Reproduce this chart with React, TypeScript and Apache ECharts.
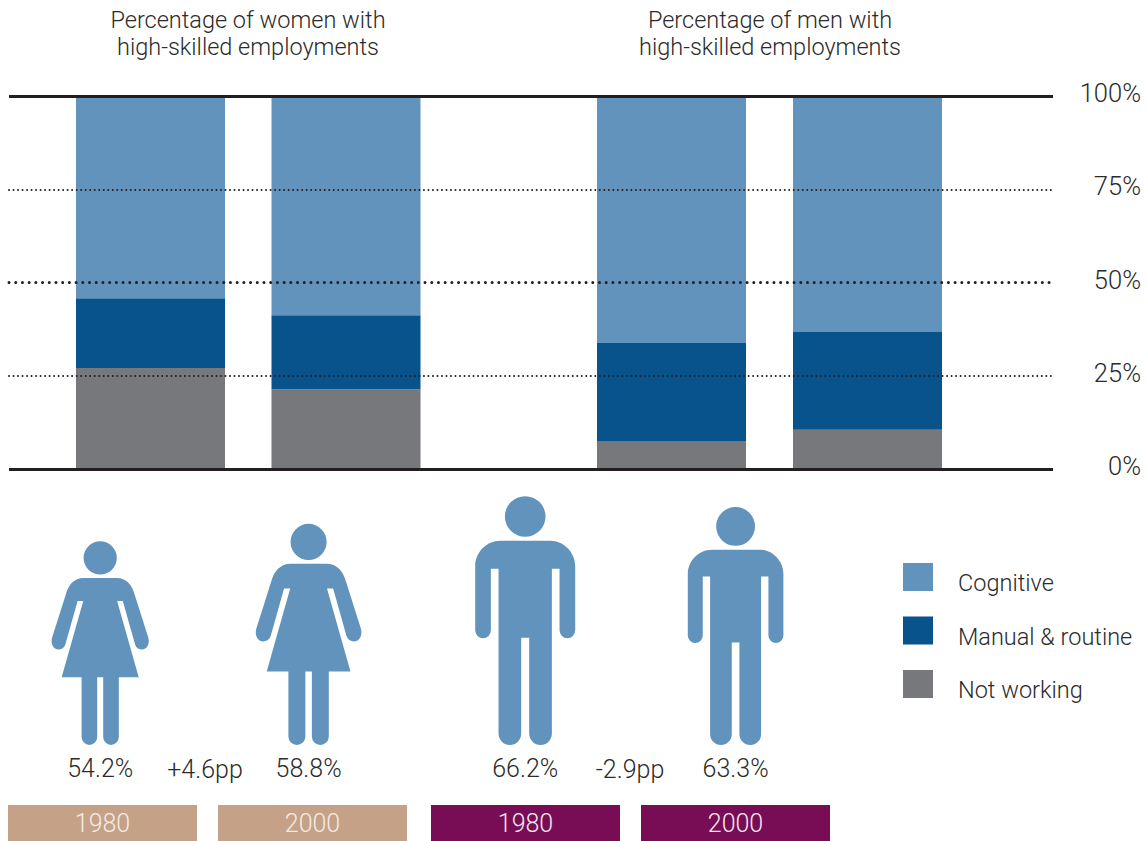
import React, { useEffect, useRef } from "react";
import * as echarts from "echarts";

// Shares of high-skilled employment by occupation type, in percent.
const years = ["1980", "2000"];
const womenNotWorking = [27.1, 21.4];
const womenManual = [18.7, 19.8];
const womenCognitive = [54.2, 58.8];
const menNotWorking = [7.5, 10.5];
const menManual = [26.3, 26.2];
const menCognitive = [66.2, 63.3];
const womenChange = "+4.6pp";
const menChange = "-2.9pp";
const axisValues = [0, 25, 50, 75, 100];
const legendNames = ["Cognitive", "Manual & routine", "Not working"];

const COGNITIVE = "#6193BC";
const MANUAL = "#08538B";
const IDLE = "#77787B";
const INK = "#231F20";
const LABEL = "#2B2B2B";
const FONT = "Roboto, 'Noto Sans', sans-serif";
const TEXT_SIZE = 23.5;
const NUMBER_SIZE = 25;

// Figure height in pixels per percentage point; the figures grow with their share.
const FIGURE_PX = 3.76;
const WOMAN_ASPECT = 292 / 611;
const MAN_ASPECT = 300 / 748;

const WOMAN =
  "path://M-50 110L50 110C78 110 96 130 104 161L145 290C150 310 140 325 126 325C116 325 108 320 105 310L68 179L51 179L116 408L56 408L56 588A23.5 23.5 0 0 1 9 588L9 408L-9 408L-9 588A23.5 23.5 0 0 1 -56 588L-56 408L-116 408L-51 179L-68 179L-105 310C-108 320 -116 325 -126 325C-140 325 -150 310 -145 290L-104 161C-96 130 -78 110 -50 110ZM-50 50A50 50 0 1 0 50 50A50 50 0 1 0 -50 50Z";
const MAN =
  "path://M-75 135L75 135C116 135 150 170 150 211L150 404A23.5 24 0 0 1 103 404L103 219L80 219L80 714A34 34 0 0 1 12 714L12 426L-12 426L-12 714A34 34 0 0 1 -80 714L-80 219L-103 219L-103 404A23.5 24 0 0 1 -150 404L-150 211C-150 170 -116 135 -75 135ZM-61 62A61 61 0 1 0 61 62A61 61 0 1 0 -61 62Z";
// A 30x28 swatch; the empty line below it lowers the legend text beside the swatch.
const SWATCH = "path://M0 0L30 0L30 28L0 28ZM0 40L30 40Z";

function stackSeries(name: string, data: number[], color: string, axis: number, stack: string) {
  return {
    type: "bar",
    name,
    data,
    stack,
    xAxisIndex: axis,
    yAxisIndex: axis,
    barWidth: 149,
    itemStyle: { color },
    silent: true,
  };
}

function figureSeries(name: string, data: number[], symbol: string, aspect: number, axis: number) {
  return {
    type: "pictorialBar",
    name,
    xAxisIndex: axis,
    yAxisIndex: axis,
    symbol,
    symbolPosition: "start",
    itemStyle: { color: COGNITIVE },
    data: data.map((value) => ({
      value,
      symbolSize: [value * FIGURE_PX * aspect, "100%"],
    })),
    label: {
      show: true,
      position: "bottom",
      distance: 11,
      formatter: "{c}%",
      fontFamily: FONT,
      fontWeight: 300,
      fontSize: NUMBER_SIZE,
      color: LABEL,
    },
    silent: true,
  };
}

function caption(text: string, x: number, y: number, fill = LABEL, fontSize = TEXT_SIZE) {
  return {
    type: "text",
    x,
    y,
    z: 10,
    style: {
      text,
      fill,
      align: "center",
      verticalAlign: "middle",
      fontFamily: FONT,
      fontWeight: 300,
      fontSize,
    },
  };
}

function yearBox(text: string, x: number, color: string, fill: string) {
  return [
    { type: "rect", x, y: 805, z: 9, shape: { width: 189, height: 36 }, style: { fill: color } },
    caption(text, x + 94.5, 823.5, fill, NUMBER_SIZE),
  ];
}

// One y-axis per line style: each draws reference lines only at its own values.
function frameAxis(lines: number[], lineStyle: object, labels?: number[]) {
  return {
    type: "value",
    gridIndex: 0,
    position: "right",
    min: 0,
    max: 100,
    z: 6,
    axisLine: { show: false },
    axisTick: { show: false, customValues: lines },
    splitLine: { show: true, lineStyle },
    axisLabel: {
      show: !!labels,
      customValues: labels,
      align: "right",
      margin: 88,
      verticalAlign: "bottom",
      lineHeight: 6,
      fontFamily: FONT,
      fontWeight: 300,
      fontSize: 25.5,
      color: LABEL,
      formatter: "{value}%",
    },
  };
}

function hiddenCategory(gridIndex: number) {
  return { type: "category", gridIndex, data: years, show: false };
}

function hiddenValue(gridIndex: number) {
  return { type: "value", gridIndex, min: 0, max: 100, show: false };
}

export default function App() {
  const ref = useRef<HTMLDivElement>(null);

  useEffect(() => {
    document.body.style.margin = "0";
    const chart = echarts.init(ref.current!, undefined, { renderer: "svg" });
    chart.setOption({
      animation: false,
      backgroundColor: "#ffffff",
      grid: [
        // Reference lines and the percentage scale.
        { left: 9, top: 96, width: 1044, height: 373 },
        // Stacked bars.
        { left: 52.75, top: 96, width: 391, height: 373 },
        { left: 573.5, top: 96, width: 392, height: 373 },
        // Figures sized by the cognitive share.
        { left: -4, top: 369, width: 416.8, height: 376, outerBoundsMode: "none" },
        { left: 420, top: 369, width: 420.8, height: 376 },
      ],
      xAxis: [
        { type: "value", gridIndex: 0, min: 0, max: 1, show: false },
        hiddenCategory(1),
        hiddenCategory(2),
        hiddenCategory(3),
        hiddenCategory(4),
      ],
      yAxis: [
        hiddenValue(0),
        hiddenValue(1),
        hiddenValue(2),
        hiddenValue(3),
        hiddenValue(4),
        frameAxis([25, 75], { type: [0.01, 4.5], cap: "round", width: 2, color: INK }, axisValues),
        frameAxis([50], { type: [0.01, 6.7], cap: "round", width: 3, color: INK }),
        frameAxis([0, 100], { type: "solid", width: 3, color: INK }),
      ],
      legend: {
        orient: "vertical",
        left: 903,
        top: 563,
        padding: 0,
        itemGap: 13.5,
        itemWidth: 30,
        itemHeight: 40,
        selectedMode: false,
        data: legendNames,
        icon: SWATCH,
        textStyle: {
          fontFamily: FONT,
          fontWeight: 300,
          fontSize: TEXT_SIZE,
          color: LABEL,
          padding: [0, 0, 0, 20],
        },
      },
      series: [
        stackSeries(legendNames[2], womenNotWorking, IDLE, 1, "women"),
        stackSeries(legendNames[1], womenManual, MANUAL, 1, "women"),
        stackSeries(legendNames[0], womenCognitive, COGNITIVE, 1, "women"),
        stackSeries(legendNames[2], menNotWorking, IDLE, 2, "men"),
        stackSeries(legendNames[1], menManual, MANUAL, 2, "men"),
        stackSeries(legendNames[0], menCognitive, COGNITIVE, 2, "men"),
        figureSeries("Women", womenCognitive, WOMAN, WOMAN_ASPECT, 3),
        figureSeries("Men", menCognitive, MAN, MAN_ASPECT, 4),
      ],
      graphic: [
        caption("Percentage of women with", 248, 20),
        caption("high-skilled employments", 248, 47),
        caption("Percentage of men with", 770, 20),
        caption("high-skilled employments", 770, 47),
        caption(womenChange, 205, 769, LABEL, NUMBER_SIZE),
        caption(menChange, 630, 769, LABEL, NUMBER_SIZE),
        ...yearBox(years[0], 8, "#C5A187", "#F3EBE4"),
        ...yearBox(years[1], 218, "#C5A187", "#F3EBE4"),
        ...yearBox(years[0], 431, "#780C55", "#F3E6EE"),
        ...yearBox(years[1], 641, "#780C55", "#F3E6EE"),
      ],
    });
    return () => chart.dispose();
  }, []);

  return <div ref={ref} style={{ width: 1147, height: 841 }} />;
}
